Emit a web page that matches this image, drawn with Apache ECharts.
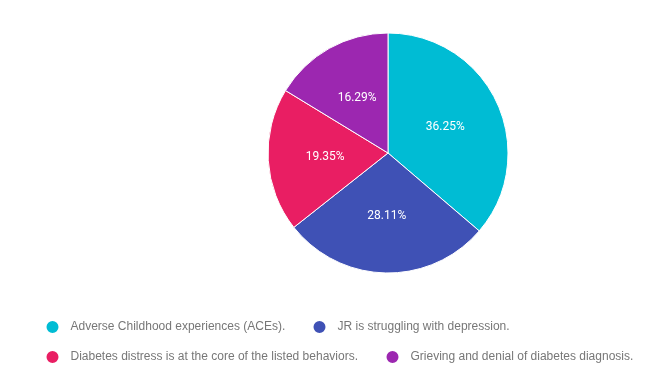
<!DOCTYPE html>
<html>
<head>
<meta charset="utf-8">
<script src="https://cdn.jsdelivr.net/npm/echarts@6/dist/echarts.min.js"></script>
<style>html,body{margin:0;padding:0;background:#fff;}#c{width:672px;height:372px;}</style>
</head>
<body>
<div id="c"></div>
<script>
const categories = [
  'Adverse Childhood experiences (ACEs).',
  'JR is struggling with depression.',
  'Diabetes distress is at the core of the listed behaviors.',
  'Grieving and denial of diabetes diagnosis.'
];
const values = [36.25, 28.11, 19.35, 16.29];
const colors = ['#00BCD4', '#3F51B5', '#E91E63', '#9C27B0'];

const legendPos = [[44.5, 319], [311.5, 319], [44.5, 349], [384.5, 349]];
const chart = echarts.init(document.getElementById('c'));
chart.setOption({
  animation: false,
  color: colors,
  legend: categories.map((name, i) => ({
    data: [name],
    left: legendPos[i][0],
    top: legendPos[i][1],
    padding: 0,
    itemWidth: 14,
    itemHeight: 14,
    icon: 'circle',
    selectedMode: false,
    textStyle: { color: '#777', fontSize: 12, fontFamily: 'Liberation Sans, Arial, sans-serif', padding: [0, 0, 0, 6] }
  })),
  series: [{
    type: 'pie',
    center: [388, 153],
    radius: [0, 120],
    startAngle: 90,
    clockwise: true,
    itemStyle: { borderColor: '#fff', borderWidth: 1 },
    label: {
      show: true,
      position: 'inside',
      formatter: p => p.value.toFixed(2) + '%',
      color: '#fff',
      fontSize: 12,
      fontFamily: 'Roboto, sans-serif'
    },
    labelLine: { show: false },
    data: categories.map((name, i) => ({ name, value: values[i] }))
  }]
});
</script>
</body>
</html>
